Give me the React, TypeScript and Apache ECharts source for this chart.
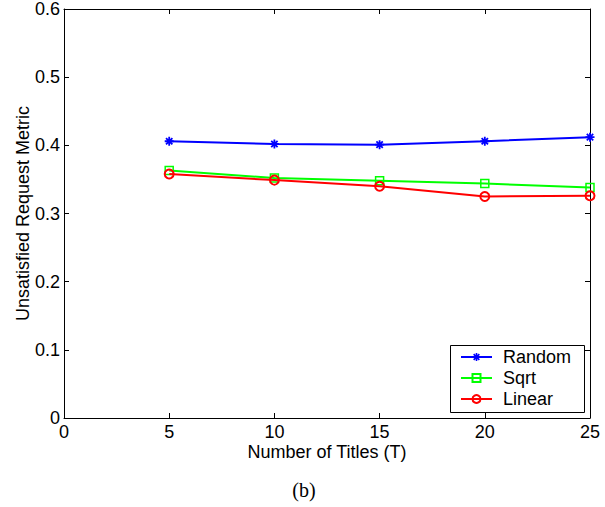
import React, { useEffect, useRef } from "react";
import * as echarts from "echarts";

const titles = [5, 10, 15, 20, 25];
const randomValues = [0.406, 0.402, 0.401, 0.406, 0.412];
const sqrtValues = [0.363, 0.352, 0.348, 0.344, 0.338];
const linearValues = [0.358, 0.349, 0.340, 0.325, 0.326];
const xTicks = [0, 5, 10, 15, 20, 25];
const yTicks = [0, 0.1, 0.2, 0.3, 0.4, 0.5, 0.6];

const asterisk =
  "path://M-1,-5L1,-5L1,5L-1,5Z M-5,-1L5,-1L5,1L-5,1Z " +
  "M-4.25,-2.83L-2.83,-4.25L4.25,2.83L2.83,4.25Z " +
  "M-2.83,4.25L-4.25,2.83L2.83,-4.25L4.25,-2.83Z";

const FONT = "'Liberation Sans', Arial, sans-serif";
const FS = 18;

export default function App() {
  const ref = useRef<HTMLDivElement>(null);
  useEffect(() => {
    if (!ref.current) return;
    const chart = echarts.init(ref.current, undefined, { renderer: "svg" });
    const pair = (vals: number[]) => titles.map((t, i) => [t, vals[i]]);
    const axisLine = () => ({ show: true, onZero: false, lineStyle: { color: "#000", width: 1 } });
    const tick = () => ({ show: true, inside: true, length: 5, lineStyle: { color: "#000", width: 1 } });
    const xBase = {
      type: "value",
      min: xTicks[0],
      max: xTicks[xTicks.length - 1],
      interval: 5,
      splitLine: { show: false },
    };
    const yBase = {
      type: "value",
      min: yTicks[0],
      max: yTicks[yTicks.length - 1],
      interval: 0.1,
      splitLine: { show: false },
    };
    chart.setOption({
      animation: false,
      backgroundColor: "#fff",
      textStyle: { fontFamily: FONT },
      grid: { left: 64, right: 15, top: 8, bottom: 89, containLabel: false },
      xAxis: [
        {
          ...xBase,
          position: "bottom",
          axisLine: axisLine(),
          axisTick: tick(),
          axisLabel: { color: "#000", fontSize: FS, margin: 5, fontFamily: FONT },
          name: "Number of Titles (T)",
          nameLocation: "middle",
          nameGap: 25,
          nameMoveOverlap: false,
          nameTextStyle: { color: "#000", fontSize: FS, fontFamily: FONT },
        },
        {
          ...xBase,
          position: "top",
          axisLine: axisLine(),
          axisTick: tick(),
          axisLabel: { show: false },
        },
      ],
      yAxis: [
        {
          ...yBase,
          position: "left",
          axisLine: axisLine(),
          axisTick: tick(),
          axisLabel: { color: "#000", fontSize: FS, margin: 4, fontFamily: FONT },
          name: "Unsatisfied Request Metric",
          nameLocation: "middle",
          nameGap: 32,
          nameMoveOverlap: false,
          nameTextStyle: { color: "#000", fontSize: FS, fontFamily: FONT },
        },
        {
          ...yBase,
          position: "right",
          axisLine: axisLine(),
          axisTick: tick(),
          axisLabel: { show: false },
        },
      ],
      legend: {
        orient: "vertical",
        left: 460,
        top: 348,
        padding: 0,
        itemWidth: 31,
        itemHeight: 10,
        itemGap: 3,
        textStyle: { color: "#000", fontSize: FS, fontFamily: FONT, padding: [0, 0, 0, 6] },
        data: ["Random", "Sqrt", "Linear"],
      },
      graphic: [
        {
          type: "rect",
          shape: { x: 450.5, y: 345.5, width: 134, height: 67 },
          style: { fill: "#fff", stroke: "#000", lineWidth: 1 },
          z: 0,
        },
        {
          type: "text",
          x: 304,
          y: 490,
          style: {
            text: "(b)",
            fill: "#000",
            align: "center",
            verticalAlign: "middle",
            font: "20px 'Liberation Serif', 'Times New Roman', serif",
          },
        },
      ],
      series: [
        {
          name: "Random",
          type: "line",
          data: pair(randomValues),
          symbol: asterisk,
          symbolSize: 9,
          itemStyle: { color: "#0000ff" },
          lineStyle: { color: "#0000ff", width: 2 },
          z: 5,
        },
        {
          name: "Sqrt",
          type: "line",
          data: pair(sqrtValues),
          symbol: "rect",
          symbolSize: 8,
          itemStyle: { color: "rgba(255,255,255,0)", borderColor: "#00ff00", borderWidth: 1.5 },
          lineStyle: { color: "#00ff00", width: 2 },
          z: 5,
        },
        {
          name: "Linear",
          type: "line",
          data: pair(linearValues),
          symbol: "circle",
          symbolSize: 9,
          itemStyle: { color: "rgba(255,255,255,0)", borderColor: "#ff0000", borderWidth: 2 },
          lineStyle: { color: "#ff0000", width: 2 },
          z: 6,
        },
      ],
    });
    return () => chart.dispose();
  }, []);
  return (
    <div
      ref={ref}
      style={{ position: "fixed", left: 0, top: 0, width: 605, height: 507 }}
    />
  );
}
